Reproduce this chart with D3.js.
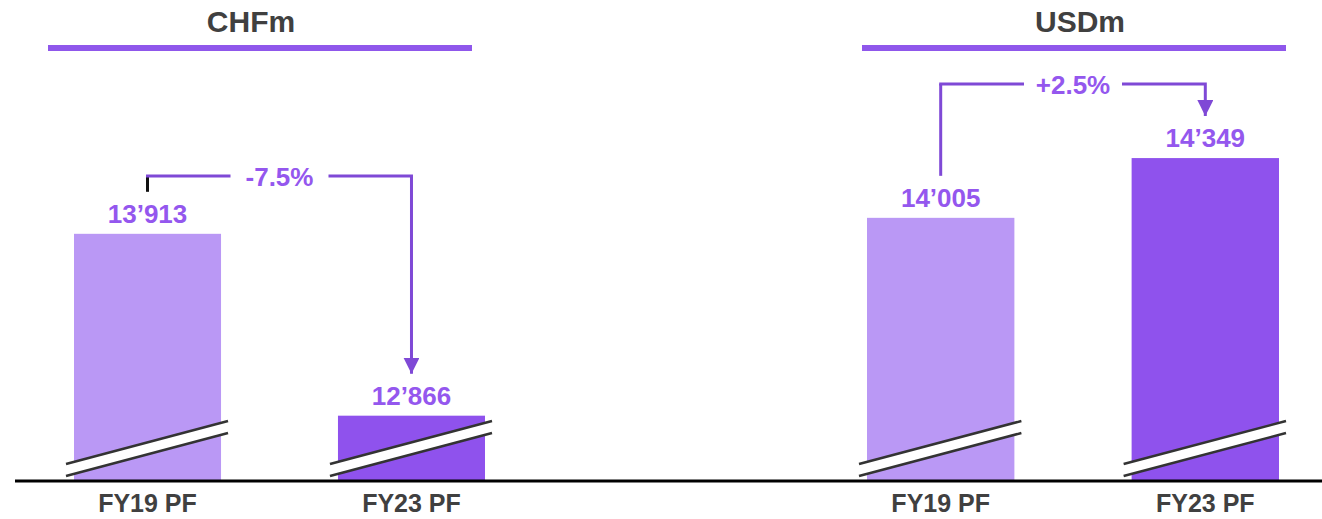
<!DOCTYPE html>
<html>
<head>
<meta charset="utf-8">
<script src="https://cdn.jsdelivr.net/npm/d3@7"></script>
<style>
  html, body { margin: 0; padding: 0; background: #fff; }
  svg { display: block; font-family: "Liberation Sans", Arial, sans-serif; }
</style>
</head>
<body>
<svg id="chart"></svg>
<script>
// data
const panelTitles = ["CHFm", "USDm"];
const categories = ["FY19 PF", "FY23 PF"];
const chfValues = [13913, 12866];
const usdValues = [14005, 14349];
const changeLabels = ["-7.5%", "+2.5%"];

const width = 1322, height = 519;
const svg = d3.select("#chart").attr("width", width).attr("height", height);

const baseY = 481;
const colors = ["#BA98F5", "#8F52ED"];
const labelColor = "#9457EE";
const arrowColor = "#7F49D6";
const textDark = "#404040";

// shared broken value axis (bars start at ~12'490)
const y = d3.scaleLinear().domain([12490, 15259]).range([baseY, 0]);

const panels = [
  { title: panelTitles[0], values: chfValues, change: changeLabels[0],
    range: [74, 485], head: [48, 472], titleX: 251, bracketY: 176, startBlack: true },
  { title: panelTitles[1], values: usdValues, change: changeLabels[1],
    range: [867, 1279], head: [862, 1286], titleX: 1080, bracketY: 84, startBlack: false }
];

const fmt = v => d3.format(",")(v).replace(",", "\u2019");

svg.append("defs").append("marker")
  .attr("id", "arrow")
  .attr("viewBox", "0 0 10 10")
  .attr("refX", 10).attr("refY", 5)
  .attr("markerUnits", "userSpaceOnUse")
  .attr("markerWidth", 16).attr("markerHeight", 16)
  .attr("orient", "auto")
  .append("path")
  .attr("d", "M0,0 L10,5 L0,10 Z")
  .attr("fill", arrowColor);

panels.forEach(p => {
  const g = svg.append("g");
  const x = d3.scaleBand().domain(categories).range(p.range).paddingInner(0.443).paddingOuter(0);
  const bw = x.bandwidth();
  const data = categories.map((c, i) => ({ cat: c, value: p.values[i], i }));

  // title + header rule
  g.append("text")
    .attr("x", p.titleX).attr("y", 32)
    .attr("text-anchor", "middle")
    .attr("font-size", 30).attr("font-weight", "bold")
    .attr("fill", textDark)
    .text(p.title);
  g.append("rect")
    .attr("x", p.head[0]).attr("y", 45)
    .attr("width", p.head[1] - p.head[0]).attr("height", 6)
    .attr("fill", "#8F57EB");

  // bars
  g.selectAll("rect.bar")
    .data(data)
    .join("rect")
    .attr("class", "bar")
    .attr("x", d => x(d.cat))
    .attr("y", d => y(d.value))
    .attr("width", bw)
    .attr("height", d => baseY - y(d.value))
    .attr("fill", d => colors[d.i]);

  // axis break marks
  data.forEach(d => {
    const x0 = x(d.cat) - 8, x1 = x(d.cat) + bw + 7;
    const yl = 464, yr = 421, gap = 12;
    g.append("path")
      .attr("d", `M${x0},${yl} L${x1},${yr} L${x1},${yr + gap} L${x0},${yl + gap} Z`)
      .attr("fill", "#fff");
    [0, gap].forEach(o => {
      g.append("line")
        .attr("x1", x0).attr("y1", yl + o)
        .attr("x2", x1).attr("y2", yr + o)
        .attr("stroke", "#333").attr("stroke-width", 2.5);
    });
  });

  // value labels
  g.selectAll("text.val")
    .data(data)
    .join("text")
    .attr("class", "val")
    .attr("x", d => x(d.cat) + bw / 2)
    .attr("y", d => y(d.value) - 11)
    .attr("text-anchor", "middle")
    .attr("font-size", 26).attr("font-weight", "bold")
    .attr("fill", labelColor)
    .text(d => fmt(d.value));

  // category labels
  g.selectAll("text.cat")
    .data(data)
    .join("text")
    .attr("class", "cat")
    .attr("x", d => x(d.cat) + bw / 2)
    .attr("y", 512)
    .attr("text-anchor", "middle")
    .attr("font-size", 25).attr("font-weight", "bold")
    .attr("fill", textDark)
    .text(d => d.cat);

  // change bracket
  const cx0 = x(categories[0]) + bw / 2;
  const cx1 = x(categories[1]) + bw / 2;
  const startY = y(p.values[0]) - 11 - 20 - 11;
  const endY = y(p.values[1]) - 11 - 20 - 11;
  const by = p.bracketY;
  const mid = (cx0 + cx1) / 2;
  const halfGap = 49;

  g.append("line")
    .attr("x1", cx0).attr("y1", startY).attr("x2", cx0).attr("y2", by)
    .attr("stroke", p.startBlack ? "#111" : arrowColor).attr("stroke-width", 3);
  g.append("path")
    .attr("d", `M${cx0 - 1.5},${by} H${mid - halfGap}`)
    .attr("fill", "none").attr("stroke", arrowColor).attr("stroke-width", 3);
  g.append("path")
    .attr("d", `M${mid + halfGap},${by} H${cx1} V${endY}`)
    .attr("fill", "none").attr("stroke", arrowColor).attr("stroke-width", 3)
    .attr("marker-end", "url(#arrow)");
  g.append("text")
    .attr("x", mid).attr("y", by + 10)
    .attr("text-anchor", "middle")
    .attr("font-size", 26).attr("font-weight", "bold")
    .attr("fill", labelColor)
    .text(p.change);
});

// baseline
svg.append("line")
  .attr("x1", 15).attr("x2", width)
  .attr("y1", baseY).attr("y2", baseY)
  .attr("stroke", "#000").attr("stroke-width", 3);
</script>
</body>
</html>
